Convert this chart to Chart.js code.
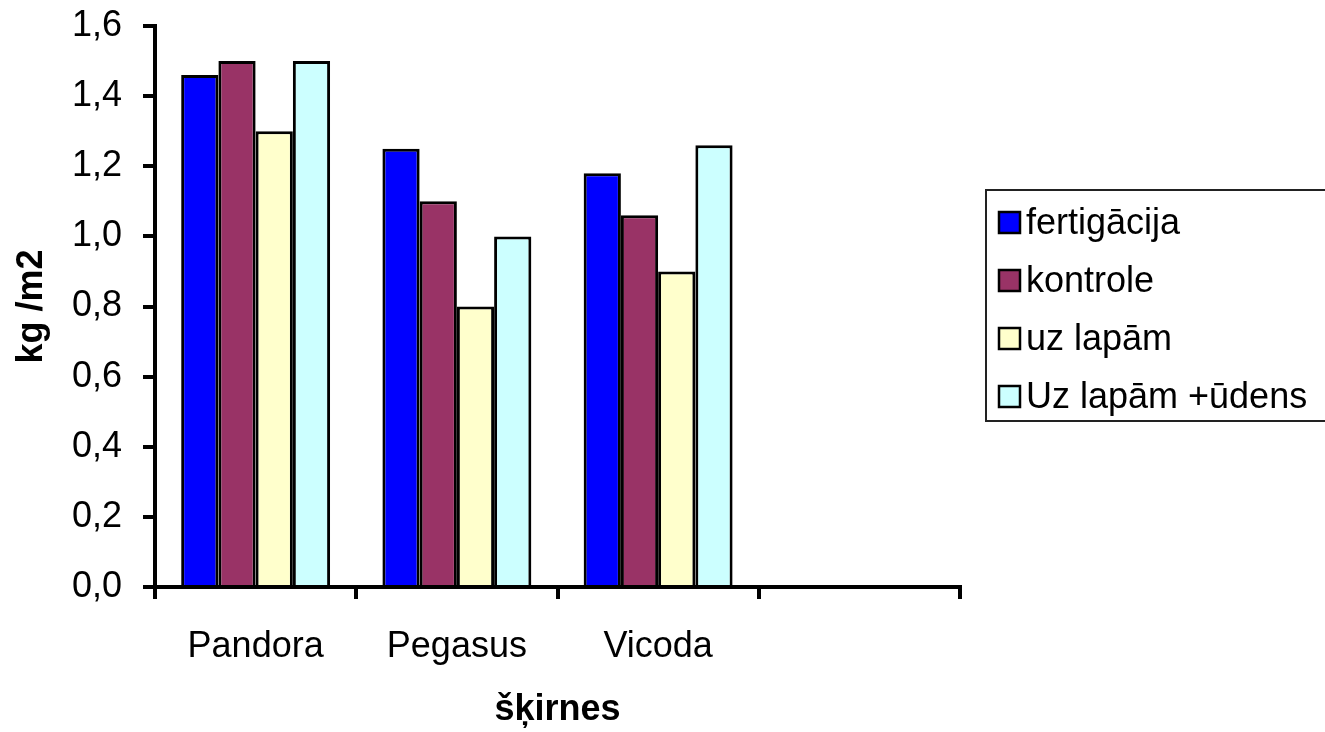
<!DOCTYPE html>
<html>
<head>
<meta charset="utf-8">
<script src="https://cdn.jsdelivr.net/npm/chart.js@4.4.0/dist/chart.umd.min.js"></script>
<style>
  html, body { margin: 0; padding: 0; background: #fff; }
  #wrap { width: 1325px; height: 732px; }
</style>
</head>
<body>
<div id="wrap"><canvas id="yieldChart"></canvas></div>
<script>
// šķirnes (x axis) – last slot is empty in the original
const categories = ['Pandora', 'Pegasus', 'Vicoda', ''];

// kg /m2 per treatment
const fertigacija = [1.46, 1.25, 1.18, null];
const kontrole = [1.50, 1.10, 1.06, null];
const uzLapam = [1.30, 0.80, 0.90, null];
const uzLapamUdens = [1.50, 1.00, 1.26, null];

const seriesNames = ['fertigācija', 'kontrole', 'uz lapām', 'Uz lapām +ūdens'];
const seriesColors = ['#0000ff', '#993366', '#ffffcc', '#ccffff'];

const yMin = 0;
const yMax = 1.6;
const yStep = 0.2;

const FONT = '"Liberation Sans", Arial, sans-serif';

// legend in a box, drawn from the datasets
const boxedLegend = {
  id: 'boxedLegend',
  afterDraw(chart) {
    const ctx = chart.ctx;
    ctx.save();
    ctx.strokeStyle = '#222';
    ctx.lineWidth = 2;
    ctx.strokeRect(986, 190, 360, 231);
    ctx.font = '36px ' + FONT;
    ctx.textBaseline = 'middle';
    chart.data.datasets.forEach((ds, i) => {
      const y = 222 + i * 58;
      ctx.fillStyle = ds.backgroundColor;
      ctx.fillRect(999, y - 10, 21, 21);
      ctx.strokeStyle = '#000';
      ctx.lineWidth = 2.5;
      ctx.strokeRect(999, y - 10, 21, 21);
      ctx.fillStyle = '#000';
      ctx.fillText(ds.label, 1026, y + 2);
    });
    ctx.restore();
  }
};

const seriesData = [fertigacija, kontrole, uzLapam, uzLapamUdens];

new Chart(document.getElementById('yieldChart'), {
  type: 'bar',
  data: {
    labels: categories,
    datasets: seriesData.map((d, i) => ({
      label: seriesNames[i],
      data: d,
      backgroundColor: seriesColors[i],
      borderColor: '#000',
      borderWidth: 3,
      categoryPercentage: 0.74,
      barPercentage: 1.0,
    })),
  },
  options: {
    responsive: true,
    maintainAspectRatio: false,
    animation: false,
    layout: { padding: { top: 26, right: 365, left: 0, bottom: 0 } },
    plugins: {
      legend: { display: false },
      tooltip: { enabled: false },
    },
    scales: {
      x: {
        offset: true,
        grid: {
          offset: true,
          drawOnChartArea: false,
          drawTicks: true,
          tickLength: 12,
          color: '#000',
          lineWidth: 4,
        },
        border: { display: true, color: '#000', width: 4 },
        ticks: { color: '#000', font: { family: FONT, size: 36 }, padding: 26, maxRotation: 0 },
        title: {
          display: true,
          text: 'šķirnes',
          color: '#000',
          font: { family: FONT, size: 36, weight: 'bold' },
          padding: { top: 0, bottom: 0 },
        },
        afterFit(scale) { scale.height = 145; },
      },
      y: {
        min: yMin,
        max: yMax,
        grid: {
          drawOnChartArea: false,
          drawTicks: true,
          tickLength: 12,
          color: '#000',
          lineWidth: 4,
        },
        border: { display: true, color: '#000', width: 4 },
        ticks: {
          stepSize: yStep,
          color: '#000',
          font: { family: FONT, size: 36 },
          padding: 21,
          callback: (v) => v.toFixed(1).replace('.', ','),
        },
        title: {
          display: true,
          text: 'kg /m2',
          color: '#000',
          font: { family: FONT, size: 36, weight: 'bold' },
          padding: { top: 10, bottom: 0 },
        },
        afterFit(scale) {
          scale.width = 155;
          scale.paddingTop = 0;
          scale.paddingBottom = 0;
        },
      },
    },
  },
  plugins: [boxedLegend],
});
</script>
</body>
</html>
